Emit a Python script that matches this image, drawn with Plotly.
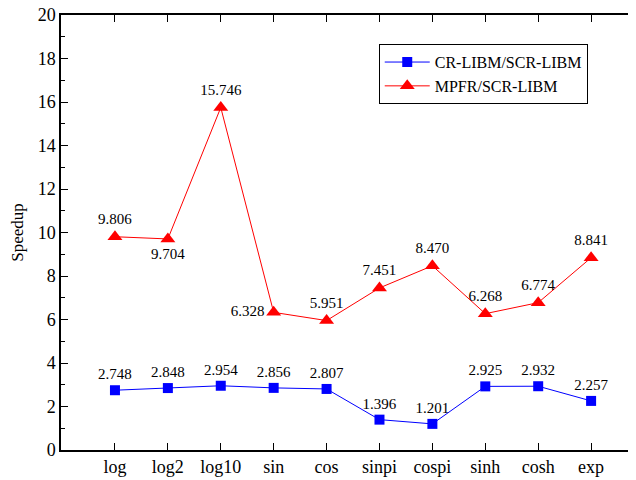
import plotly.graph_objects as go

categories = ["log", "log2", "log10", "sin", "cos", "sinpi", "cospi", "sinh", "cosh", "exp"]
cr_libm = [2.748, 2.848, 2.954, 2.856, 2.807, 1.396, 1.201, 2.925, 2.932, 2.257]
mpfr = [9.806, 9.704, 15.746, 6.328, 5.951, 7.451, 8.470, 6.268, 6.774, 8.841]
mpfr_pos = ["top center", "bottom center", "top center", "middle left", "top center",
            "top center", "top center", "top center", "top center", "top center"]
y_ticks = [0, 2, 4, 6, 8, 10, 12, 14, 16, 18, 20]

FONT = "Liberation Serif"
xs = list(range(len(categories)))

fig = go.Figure()
fig.add_trace(go.Scatter(
    x=xs, y=cr_libm, name="CR-LIBM/SCR-LIBM", mode="lines+markers+text",
    line=dict(color="#0000ff", width=1),
    marker=dict(symbol="square", size=10, color="#0000ff"),
    text=[f"{v:.3f}" for v in cr_libm], textposition="top center",
    textfont=dict(family=FONT, size=15, color="black"),
))
fig.add_trace(go.Scatter(
    x=xs, y=mpfr, name="MPFR/SCR-LIBM", mode="lines+markers+text",
    line=dict(color="#ff0000", width=1),
    marker=dict(symbol="triangle-up", size=13, color="#ff0000"),
    text=[f"{v:.3f}" for v in mpfr], textposition=mpfr_pos,
    textfont=dict(family=FONT, size=15, color="black"),
))

fig.update_layout(
    width=636, height=480,
    margin=dict(l=53, r=0, t=7, b=38, pad=0),
    plot_bgcolor="white", paper_bgcolor="white",
    font=dict(family=FONT, size=17, color="black"),
    showlegend=True,
    legend=dict(x=0.545, y=0.933, xanchor="left", yanchor="top",
                bordercolor="black", borderwidth=1, bgcolor="white",
                font=dict(family=FONT, size=16), tracegroupgap=0,
                itemwidth=45),
    xaxis=dict(range=[-1.02, 10.0], tickmode="array", tickvals=xs, ticktext=categories,
               showline=True, linecolor="black", linewidth=1.5, mirror="ticks",
               ticks="inside", ticklen=7, tickcolor="black", showgrid=False,
               zeroline=False, tickfont=dict(family=FONT, size=18), automargin=False,
               ticklabeloverflow="allow"),
    yaxis=dict(range=[0, 20], tickvals=y_ticks, showline=True, linecolor="black",
               linewidth=1.5, mirror="ticks", ticks="inside", ticklen=7, tickcolor="black",
               showgrid=False, zeroline=False, automargin=False, ticklabeloverflow="allow",
               title=dict(text="Speedup", font=dict(family=FONT, size=17), standoff=16),
               minor=dict(ticks="inside", ticklen=4, tickcolor="black", dtick=1, tick0=1),
               tickfont=dict(family=FONT, size=18)),
)
fig.write_html("out.html")
